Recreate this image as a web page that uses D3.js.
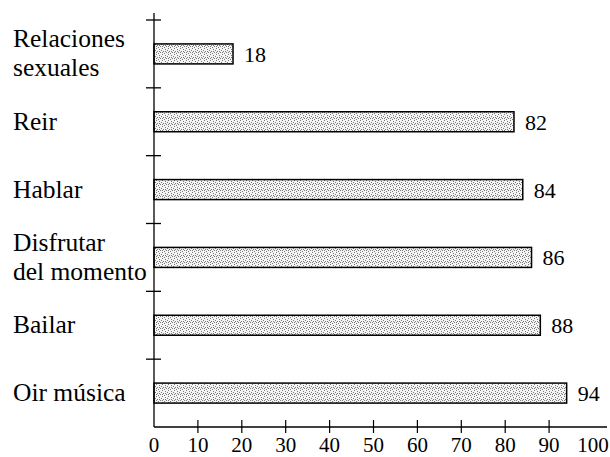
<!DOCTYPE html>
<html><head><meta charset="utf-8">
<script src="https://cdn.jsdelivr.net/npm/d3@7"></script>
<style>html,body{margin:0;padding:0;background:#fff}
svg text{font-family:"Liberation Serif","Times New Roman",Tinos,"DejaVu Serif",serif;}</style>
</head><body>
<svg id="chart" width="610" height="457"></svg>
<script>
const categories = [["Relaciones","sexuales"],["Reir"],["Hablar"],["Disfrutar","del momento"],["Bailar"],["Oir música"]];
const values = [18, 82, 84, 86, 88, 94];
const xTicks = [0,10,20,30,40,50,60,70,80,90,100];

const svg = d3.select("#chart");
const defs = svg.append("defs");
const pat = defs.append("pattern").attr("id","stip").attr("patternUnits","userSpaceOnUse")
  .attr("width",6).attr("height",6);
pat.append("rect").attr("width",6).attr("height",6).attr("fill","#f4f4f4");
const dots = [[0,0],[3,1],[5,2],[1,3],[4,4],[2,5],[0,4],[3,3]];
dots.forEach(([a,b])=>pat.append("rect").attr("x",a).attr("y",b).attr("width",1).attr("height",1).attr("fill","#7a7a7a"));

const x = d3.scaleLinear().domain([0,100]).range([154,593]);
const y = d3.scaleBand().domain(d3.range(categories.length)).range([20,427]);
const barH = 20;

// bars
svg.selectAll("rect.bar").data(values).join("rect").attr("class","bar")
  .attr("x",x(0)).attr("y",(d,i)=>y(i)+y.bandwidth()/2-barH/2)
  .attr("width",d=>x(d)-x(0)).attr("height",barH)
  .attr("fill","url(#stip)").attr("stroke","#000").attr("stroke-width",1.5);

// value labels
svg.selectAll("text.val").data(values).join("text").attr("class","val")
  .attr("x",d=>x(d)+11).attr("y",(d,i)=>y(i)+y.bandwidth()/2+8)
  .attr("font-size",22).text(d=>d);

// y axis
svg.append("line").attr("x1",154).attr("x2",154).attr("y1",13).attr("y2",427).attr("stroke","#000").attr("stroke-width",1.3);
svg.selectAll("line.ytick").data(d3.range(categories.length)).join("line").attr("class","ytick")
  .attr("x1",146).attr("x2",161).attr("y1",i=>y(i)).attr("y2",i=>y(i)).attr("stroke","#000").attr("stroke-width",1.3);

// category labels
categories.forEach((lines,i)=>{
  const c = y(i)+y.bandwidth()/2;
  const lh = 29;
  const t = svg.append("text").attr("font-size",25.5).attr("fill","#000");
  lines.forEach((l,j)=>{
    t.append("tspan").attr("x",13).attr("y",c+8+(j-(lines.length-1)/2)*lh).text(l);
  });
});

// x axis
svg.append("line").attr("x1",154).attr("x2",607).attr("y1",427).attr("y2",427).attr("stroke","#000").attr("stroke-width",1.3);
svg.selectAll("line.xtick").data(xTicks.filter(t=>t>0&&t<100)).join("line").attr("class","xtick")
  .attr("x1",d=>x(d)).attr("x2",d=>x(d)).attr("y1",420).attr("y2",433).attr("stroke","#000").attr("stroke-width",1.2);
svg.selectAll("text.xt").data(xTicks).join("text").attr("class","xt")
  .attr("x",d=>x(d)).attr("y",452).attr("text-anchor","middle")
  .attr("font-size",21).text(d=>d);
</script>
</body></html>
